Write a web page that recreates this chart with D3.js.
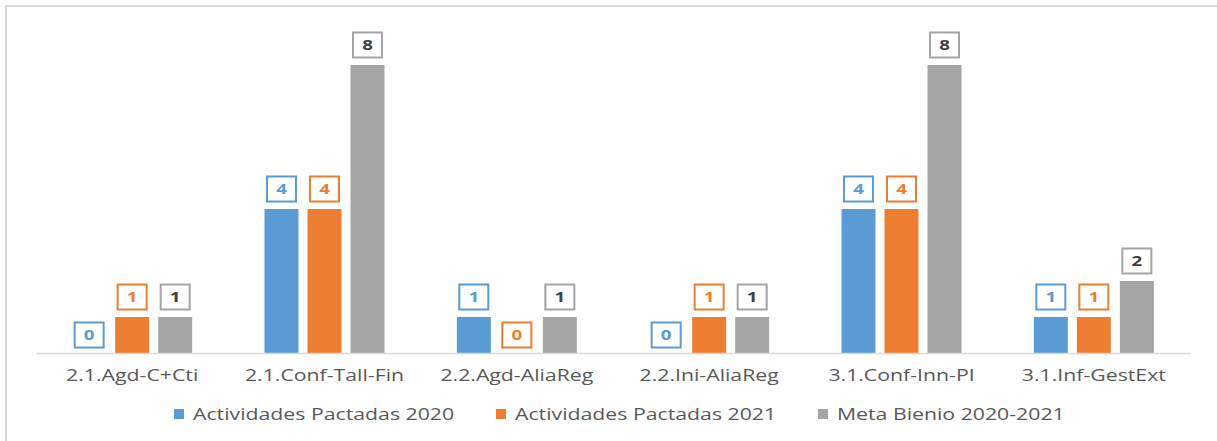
<!DOCTYPE html>
<html><head><meta charset="utf-8">
<script src="https://cdn.jsdelivr.net/npm/d3@7/dist/d3.min.js"></script>
<style>body{margin:0;background:#fff;}svg{display:block;}</style>
</head><body>
<svg id="chart" width="1217" height="441"></svg>
<script>
const categories = ["2.1.Agd-C+Cti","2.1.Conf-Tall-Fin","2.2.Agd-AliaReg","2.2.Ini-AliaReg","3.1.Conf-Inn-PI","3.1.Inf-GestExt"];
const seriesNames = ["Actividades Pactadas 2020","Actividades Pactadas 2021","Meta Bienio 2020-2021"];
const pactadas2020 = [0,4,1,0,4,1];
const pactadas2021 = [1,4,0,1,4,1];
const metaBienio = [1,8,1,1,8,2];
const colors = ["#5B9BD5","#ED7D31","#A5A5A5"];
const labelText = ["#5B9BD5","#ED7D31","#404040"];

const svg = d3.select("#chart");
const font = "'Open Sans', sans-serif";
const stretch = 1.25;
function widen(sel){
  sel.each(function(){
    const w = this.getComputedTextLength();
    d3.select(this).attr("textLength", w*stretch).attr("lengthAdjust","spacingAndGlyphs");
  });
}

svg.append("rect").attr("x",6).attr("y",6).attr("width",1230).attr("height",460)
  .attr("fill","#fff").attr("stroke","#D9D9D9").attr("stroke-width",2);

const x0 = d3.scaleBand().domain(categories).range([36,1190]).paddingInner(0).paddingOuter(0);
const x1 = d3.scaleBand().domain(d3.range(3)).range([x0.bandwidth()/2-60, x0.bandwidth()/2+60]).paddingInner(0.21).paddingOuter(0);
const y = d3.scaleLinear().domain([0,8]).range([353,65]);

const series = [pactadas2020,pactadas2021,metaBienio];

const g = svg.append("g");
series.forEach((vals,si)=>{
  const grp = g.append("g");
  grp.selectAll("rect").data(vals).join("rect")
    .attr("x",(d,i)=>x0(categories[i])+x1(si))
    .attr("width",x1.bandwidth())
    .attr("y",d=>y(d))
    .attr("height",d=>y(0)-y(d))
    .attr("fill",colors[si]);
  const lab = grp.selectAll("g.lab").data(vals).join("g").attr("class","lab")
    .attr("transform",(d,i)=>`translate(${x0(categories[i])+x1(si)+x1.bandwidth()/2},${y(d)-(d>0?20:18)})`);
  lab.append("rect").attr("x",-14.5).attr("y",-12.5).attr("width",29).attr("height",25)
    .attr("fill","#fff").attr("stroke",colors[si]).attr("stroke-width",2);
  lab.append("text").attr("text-anchor","middle").attr("dy","0.36em")
    .attr("font-family",font).attr("font-weight","bold").attr("font-size",15)
    .attr("fill",labelText[si]).text(d=>d).call(widen);
});

// axis
const xAxis = d3.axisBottom(x0).tickSize(0).tickPadding(16);
const ax = svg.append("g").attr("transform","translate(0,353)").call(xAxis);
ax.select(".domain").attr("stroke","#D9D9D9").attr("stroke-width",1.5);
ax.selectAll("text").attr("font-family",font).attr("font-size",17).attr("fill","#595959").call(widen);

// legend
const legendX = [174,496,818];
const leg = svg.append("g");
seriesNames.forEach((n,i)=>{
  leg.append("rect").attr("x",legendX[i]).attr("y",409).attr("width",10).attr("height",10).attr("fill",colors[i]);
  leg.append("text").attr("x",legendX[i]+19).attr("y",414).attr("dy","0.35em")
    .attr("font-family",font).attr("font-size",17).attr("fill","#595959").text(n).call(widen);
});
</script>
</body></html>
